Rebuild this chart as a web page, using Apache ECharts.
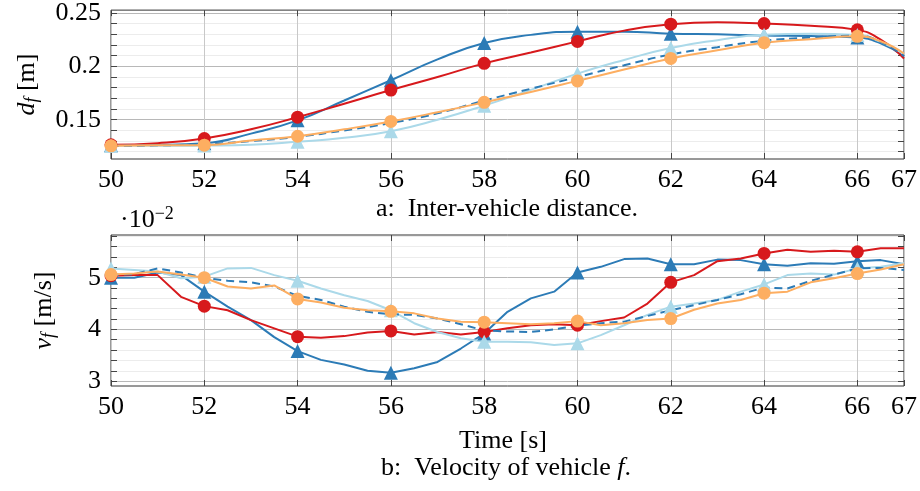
<!DOCTYPE html>
<html><head><meta charset="utf-8">
<script src="https://cdn.jsdelivr.net/npm/echarts@6/dist/echarts.min.js"></script>
<style>html,body{margin:0;padding:0;background:#fff}#c{width:920px;height:491px}</style>
</head><body><div id="c"></div>
<script>
const FONT = 'Liberation Serif';

// ---- ticks / labels ----
const X_TICKS = [50, 52, 54, 56, 58, 60, 62, 64, 66, 67];
const MARKER_TIMES = [50, 52, 54, 56, 58, 60, 62, 64, 66];
const Y_TICKS_TOP = [0.12, 0.13, 0.14, 0.15, 0.16, 0.17, 0.18, 0.19, 0.2, 0.21, 0.22, 0.23, 0.24, 0.25];
const Y_LABELS_TOP = [0.15, 0.2, 0.25];
const Y_TICKS_BOT = [3.0, 3.2, 3.4, 3.6, 3.8, 4.0, 4.2, 4.4, 4.6, 4.8, 5.0, 5.2, 5.4, 5.6, 5.8];
const Y_LABELS_BOT = [3, 4, 5];

// ---- (a) inter-vehicle distance d_f [m] ----
const T_TOP = [50, 51, 52, 53, 54, 55, 56, 57, 58, 59, 60, 61, 62, 63, 64, 65, 66, 66.5, 67];
const D_BLUE   = [0.1262, 0.1265, 0.1280, 0.1370, 0.1494, 0.1680, 0.1870, 0.2065, 0.2219, 0.2295, 0.2325, 0.2325, 0.2306, 0.2300, 0.2290, 0.2285, 0.2271, 0.2215, 0.2095];
const D_RED    = [0.1265, 0.1280, 0.1324, 0.1410, 0.1524, 0.1650, 0.1778, 0.1900, 0.2028, 0.2130, 0.2234, 0.2335, 0.2395, 0.2413, 0.2401, 0.2380, 0.2342, 0.2250, 0.2074];
const D_LBLUE  = [0.1255, 0.1255, 0.1258, 0.1265, 0.1293, 0.1330, 0.1392, 0.1500, 0.1632, 0.1780, 0.1932, 0.2060, 0.2172, 0.2245, 0.2296, 0.2305, 0.2295, 0.2230, 0.2117];
const D_DASHED = [0.1255, 0.1260, 0.1270, 0.1300, 0.1340, 0.1400, 0.1469, 0.1560, 0.1679, 0.1790, 0.1900, 0.2010, 0.2111, 0.2180, 0.2240, 0.2270, 0.2287, 0.2230, 0.2096];
const D_ORANGE = [0.1255, 0.1260, 0.1262, 0.1305, 0.1345, 0.1410, 0.1484, 0.1570, 0.1663, 0.1760, 0.1864, 0.1970, 0.2074, 0.2150, 0.2222, 0.2255, 0.2281, 0.2235, 0.2120];

// ---- (b) velocity v_f [m/s] (x 10^-2) ----
const T_BOT = [50, 50.5, 51, 51.5, 52, 52.5, 53, 53.5, 54, 54.5, 55, 55.5, 56, 56.5, 57, 57.5, 58, 58.5, 59, 59.5, 60, 60.5, 61, 61.5, 62, 62.5, 63, 63.5, 64, 64.5, 65, 65.5, 66, 66.5, 67];
const V_BLUE   = [5.00, 5.00, 5.10, 5.05, 4.73, 4.44, 4.18, 3.85, 3.58, 3.41, 3.32, 3.20, 3.16, 3.25, 3.37, 3.63, 3.92, 4.34, 4.60, 4.73, 5.10, 5.21, 5.36, 5.37, 5.26, 5.26, 5.35, 5.34, 5.26, 5.23, 5.28, 5.27, 5.32, 5.34, 5.26];
const V_RED    = [5.04, 5.05, 5.05, 4.63, 4.45, 4.37, 4.18, 4.02, 3.86, 3.84, 3.87, 3.94, 3.97, 3.90, 3.95, 3.90, 3.95, 4.02, 4.08, 4.10, 4.08, 4.16, 4.23, 4.50, 4.91, 5.05, 5.32, 5.37, 5.47, 5.54, 5.50, 5.52, 5.50, 5.57, 5.57];
const V_LBLUE  = [5.18, 5.15, 5.12, 4.99, 5.02, 5.18, 5.19, 5.05, 4.94, 4.79, 4.66, 4.55, 4.37, 4.12, 3.95, 3.83, 3.76, 3.76, 3.75, 3.70, 3.73, 3.89, 4.08, 4.28, 4.44, 4.50, 4.57, 4.73, 4.87, 5.05, 5.08, 5.06, 5.18, 5.21, 5.28];
const V_DASHED = [5.05, 5.07, 5.18, 5.10, 5.00, 4.94, 4.91, 4.83, 4.65, 4.57, 4.44, 4.34, 4.29, 4.28, 4.21, 4.10, 3.98, 3.96, 3.95, 4.00, 4.07, 4.12, 4.15, 4.26, 4.37, 4.47, 4.57, 4.68, 4.81, 4.79, 4.94, 5.06, 5.18, 5.19, 5.15];
const V_ORANGE = [5.06, 5.08, 5.12, 5.06, 5.00, 4.83, 4.79, 4.85, 4.59, 4.52, 4.42, 4.37, 4.35, 4.31, 4.21, 4.15, 4.14, 4.12, 4.10, 4.12, 4.16, 4.08, 4.12, 4.18, 4.21, 4.38, 4.50, 4.57, 4.70, 4.73, 4.91, 4.99, 5.08, 5.16, 5.26];

const C_BLUE = '#2c7bb6', C_RED = '#d7191c', C_LBLUE = '#abd9e9', C_ORANGE = '#fdae61';

function series(axis, times, vals, color, symbol, dashed, smooth) {
  return {
    type: 'line', xAxisIndex: axis, yAxisIndex: axis,
    data: times.map((t, i) => [t, vals[i]]),
    smooth: smooth,
    symbol: symbol ? (v) => (MARKER_TIMES.indexOf(v[0]) >= 0 ? symbol : 'none') : 'none',
    symbolSize: symbol === 'triangle' ? 14 : 13,
    showAllSymbol: true,
    lineStyle: { color: color, width: 2, type: dashed ? [8, 5] : 'solid' },
    itemStyle: { color: color, borderWidth: 0 },
    emphasis: { disabled: true }, silent: true, animation: false
  };
}

const baseLabel = { fontFamily: FONT, fontSize: 26, color: '#000' };
const tickStyle = { color: '#444', width: 1 };

function xAxes(grid) {
  return [
    { gridIndex: grid, type: 'value', min: 50, max: 67,
      axisLine: { show: false },
      axisTick: { show: true, inside: true, length: 6, customValues: X_TICKS, lineStyle: tickStyle },
      axisLabel: Object.assign({ customValues: X_TICKS, margin: 8 }, baseLabel),
      splitLine: { show: true, lineStyle: { color: '#c8c8c8', width: 1 } } },
    { gridIndex: grid, type: 'value', min: 50, max: 67, position: 'top',
      axisLine: { show: false },
      axisTick: { show: true, inside: true, length: 6, customValues: X_TICKS, lineStyle: tickStyle },
      axisLabel: { show: false }, splitLine: { show: false } }
  ];
}
function yAxes(grid, min, max, ticks, labels, colors, name, gap, rich) {
  return [
    { gridIndex: grid, type: 'value', min: min, max: max, position: 'left',
      axisLine: { show: false },
      axisTick: { show: true, inside: true, length: 6, customValues: ticks, lineStyle: tickStyle },
      axisLabel: Object.assign({ customValues: labels, margin: 10 }, baseLabel),
      splitLine: { show: true, lineStyle: { color: colors, width: 1 } },
      name: name, nameLocation: 'middle', nameRotate: 90, nameGap: gap,
      nameTextStyle: { fontFamily: FONT, fontSize: 26, color: '#000', rich: rich } },
    { gridIndex: grid, type: 'value', min: min, max: max, position: 'right',
      axisLine: { show: false },
      axisTick: { show: true, inside: true, length: 6, customValues: ticks, lineStyle: tickStyle },
      axisLabel: { show: false }, splitLine: { show: false } }
  ];
}
const richName = {
  i: { fontFamily: FONT, fontSize: 26, fontStyle: 'italic', color: '#000' },
  s: { fontFamily: FONT, fontSize: 18, fontStyle: 'italic', color: '#000', verticalAlign: 'bottom', padding: [10, 0, 0, 0] }
};

const chart = echarts.init(document.getElementById('c'), null, { renderer: 'canvas' });
chart.setOption({
  animation: false,
  backgroundColor: '#fff',
  grid: [
    { left: 111, right: 15, top: 8.5, height: 150.5, show: true, borderColor: '#333', borderWidth: 1, backgroundColor: 'transparent' },
    { left: 111, right: 15, top: 235, height: 151, show: true, borderColor: '#333', borderWidth: 1, backgroundColor: 'transparent' }
  ],
  xAxis: xAxes(0).concat(xAxes(1)),
  yAxis: yAxes(0, 0.1132, 0.2527, Y_TICKS_TOP, Y_LABELS_TOP, ['#ececec', '#ececec', '#ececec', '#b8b8b8', '#ececec'], '{i|d}{s|f} [m]', 70, richName)
    .concat(yAxes(1, 2.905, 5.826, Y_TICKS_BOT, Y_LABELS_BOT, ['#b8b8b8', '#ececec', '#ececec', '#ececec', '#ececec'], '{i|v}{s|f} [m/s]', 53, richName)),
  series: [
    series(0, T_TOP, D_BLUE, C_BLUE, 'triangle', false, 0.5),
    series(0, T_TOP, D_RED, C_RED, 'circle', false, 0.5),
    series(0, T_TOP, D_LBLUE, C_LBLUE, 'triangle', false, 0.5),
    series(0, T_TOP, D_DASHED, C_BLUE, null, true, 0.5),
    series(0, T_TOP, D_ORANGE, C_ORANGE, 'circle', false, 0.5),
    series(2, T_BOT, V_BLUE, C_BLUE, 'triangle', false, false),
    series(2, T_BOT, V_RED, C_RED, 'circle', false, false),
    series(2, T_BOT, V_LBLUE, C_LBLUE, 'triangle', false, false),
    series(2, T_BOT, V_DASHED, C_BLUE, null, true, false),
    series(2, T_BOT, V_ORANGE, C_ORANGE, 'circle', false, false)
  ],
  graphic: [
    { type: 'text', x: 507, y: 209, style: { text: 'a:  Inter-vehicle distance.', fontFamily: FONT, fontSize: 26, fill: '#000', textAlign: 'center', textVerticalAlign: 'middle' } },
    { type: 'text', x: 120, y: 220, style: { text: '·10{sup|−2}', fontFamily: FONT, fontSize: 26, fill: '#000', textAlign: 'left', textVerticalAlign: 'middle',
        rich: { sup: { fontFamily: FONT, fontSize: 18, fill: '#000', verticalAlign: 'top', padding: [0, 0, 12, 0] } } } },
    { type: 'text', x: 503, y: 441, style: { text: 'Time [s]', fontFamily: FONT, fontSize: 26, fill: '#000', textAlign: 'center', textVerticalAlign: 'middle' } },
    { type: 'text', x: 506, y: 468, style: { text: 'b:  Velocity of vehicle {i|f}.', fontFamily: FONT, fontSize: 26, fill: '#000', textAlign: 'center', textVerticalAlign: 'middle',
        rich: { i: { fontFamily: FONT, fontSize: 26, fontStyle: 'italic', fill: '#000' } } } }
  ]
});
</script></body></html>
